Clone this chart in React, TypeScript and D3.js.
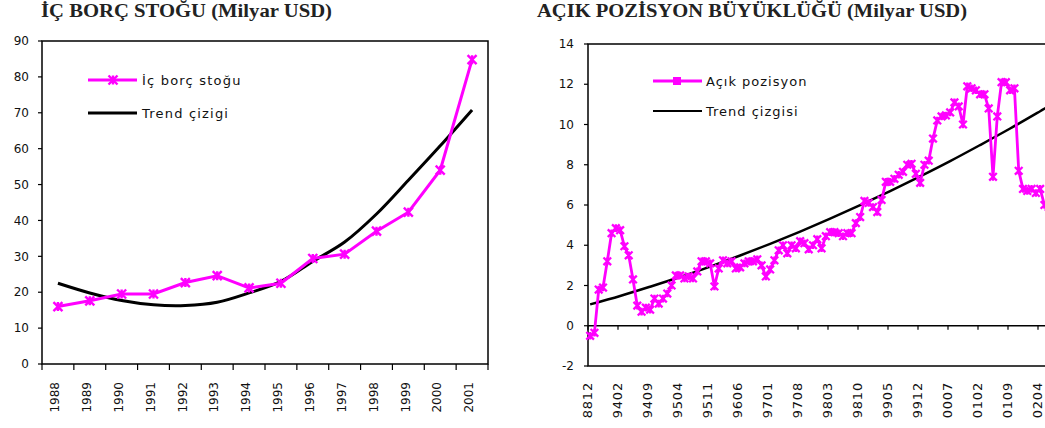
import React from 'react';
import * as d3 from 'd3';

// ---------- Left chart data: İç borç stoğu ----------
const years = ['1988', '1989', '1990', '1991', '1992', '1993', '1994', '1995', '1996', '1997', '1998', '1999', '2000', '2001'];
const debtStock = [16, 17.6, 19.5, 19.5, 22.7, 24.6, 21.2, 22.5, 29.4, 30.6, 37, 42.3, 54, 84.8];
const debtTrend = [22.5, 19.8, 17.7, 16.5, 16.3, 17.2, 19.8, 23.0, 28.6, 34.0, 41.8, 51.2, 60.8, 70.8];
const debtYTicks = [0, 10, 20, 30, 40, 50, 60, 70, 80, 90];

// ---------- Right chart data: Açık pozisyon (monthly, 8812 then 9308 ... 0206) ----------
const posTickLabels = ['8812', '9402', '9409', '9504', '9511', '9606', '9701', '9708', '9803', '9810', '9905', '9912', '0007', '0102', '0109', '0204'];
const posValues = [
  -0.5, -0.35, 1.8, 1.9, 3.2, 4.6, 4.85, 4.75, 3.95, 3.5,
  2.3, 1.0, 0.7, 0.9, 0.8, 1.35, 1.1, 1.35, 1.6, 2.0,
  2.5, 2.5, 2.35, 2.45, 2.35, 2.7, 3.2, 3.2, 3.1, 1.95,
  2.85, 3.25, 3.1, 3.2, 2.85, 2.9, 3.1, 3.2, 3.2, 3.3,
  3.0, 2.45, 2.8, 3.25, 3.75, 4.0, 3.6, 4.0, 3.85, 4.2,
  4.1, 3.8, 4.0, 4.3, 3.85, 4.45, 4.65, 4.65, 4.6, 4.45,
  4.6, 4.6, 5.1, 5.4, 6.2, 6.1, 5.9, 5.65, 6.25, 7.15,
  7.15, 7.3, 7.5, 7.65, 8.0, 8.05, 7.55, 7.1, 8.0, 8.2,
  9.3, 10.2, 10.4, 10.45, 10.6, 11.1, 10.9, 10.0, 11.9, 11.8,
  11.7, 11.5, 11.5, 10.8, 7.4, 10.4, 12.1, 12.1, 11.7, 11.8,
  7.7, 6.8, 6.7, 6.8, 6.6, 6.8, 6.0, 5.9,
];
const posTrendIndex = [0, 7, 14, 21, 28, 35, 42, 49, 56, 63, 70, 77, 84, 91, 98, 105, 107];
const posTrend = [1.06, 1.48, 1.94, 2.42, 2.94, 3.49, 4.07, 4.68, 5.32, 5.99, 6.69, 7.42, 8.18, 8.98, 9.8, 10.66, 10.91];
const posYTicks = [-2, 0, 2, 4, 6, 8, 10, 12, 14];

const W = 1045;
const H = 428;
const PINK = '#FF00FF';
const SANS = '"DejaVu Sans", Verdana, sans-serif';
const SERIF = '"Liberation Serif", "Times New Roman", serif';

const star = (r: number) => `M${-r},${-r}L${r},${r}M${-r},${r}L${r},${-r}M0,${-r}L0,${r}`;

function LeftChart() {
  const x = d3.scaleBand<string>().domain(years).range([42, 488]);
  const y = d3.scaleLinear().domain([0, 90]).range([364, 41]);
  const bw = x.bandwidth();
  const cx = (i: number) => (x(years[i]) as number) + bw / 2;
  const line = d3.line<number>().x((_, i) => cx(i)).y((d) => y(d));
  const trendLine = d3.line<number>().x((_, i) => cx(i)).y((d) => y(d)).curve(d3.curveCatmullRom.alpha(0.5));
  const boundaries = [...years.map((yr) => x(yr) as number), 488];
  return (
    <g>
      <text x={41} y={17} fontFamily={SERIF} fontWeight="bold" fontSize={18} textLength={291} lengthAdjust="spacingAndGlyphs" fill="#222">İÇ BORÇ STOĞU (Milyar USD)</text>
      <rect x={42} y={41} width={446} height={323} fill="none" stroke="#000" strokeWidth={1.5} />
      {debtYTicks.map((t) => (
        <g key={t}>
          <line x1={38} x2={42} y1={y(t)} y2={y(t)} stroke="#000" strokeWidth={1.2} />
          <text x={29} y={y(t)} dy="0.35em" textAnchor="end" fontFamily={SANS} fontSize={12} fill="#111">{t}</text>
        </g>
      ))}
      {boundaries.map((bx, i) => (
        <line key={i} x1={bx} x2={bx} y1={364} y2={370} stroke="#000" strokeWidth={1.2} />
      ))}
      {years.map((yr, i) => (
        <text key={yr} transform={`translate(${cx(i) - 3},382) rotate(-90)`} dy="0.35em" textAnchor="end" fontFamily={SANS} fontSize={12} fill="#111">{yr}</text>
      ))}
      <path d={trendLine(debtTrend) as string} fill="none" stroke="#000" strokeWidth={3} />
      <path d={line(debtStock) as string} fill="none" stroke={PINK} strokeWidth={3} />
      {debtStock.map((v, i) => (
        <path key={i} d={star(4.5)} transform={`translate(${cx(i)},${y(v)})`} stroke={PINK} strokeWidth={2.4} fill="none" />
      ))}
      {/* legend */}
      <line x1={88} x2={137} y1={80} y2={80} stroke={PINK} strokeWidth={3} />
      <path d={star(4.5)} transform="translate(113,80)" stroke={PINK} strokeWidth={2.4} fill="none" />
      <text x={142} y={84.5} fontFamily={SANS} fontSize={13} letterSpacing={1.2} fill="#111">İç borç stoğu</text>
      <line x1={88} x2={137} y1={113} y2={113} stroke="#000" strokeWidth={3} />
      <text x={142} y={117.5} fontFamily={SANS} fontSize={13} letterSpacing={1.2} fill="#111">Trend çizigi</text>
    </g>
  );
}

function RightChart() {
  const n = posValues.length;
  const step = 30 / 7;
  const idx = d3.range(n);
  const x = d3.scaleBand<number>().domain(idx).range([588, 588 + n * step]);
  const y = d3.scaleLinear().domain([-2, 14]).range([366, 44]);
  const bw = x.bandwidth();
  const cx = (i: number) => (x(i) as number) + bw / 2;
  const line = d3.line<number>().x((_, i) => cx(i)).y((d) => y(d));
  const trendLine = d3
    .line<number>()
    .x((_, i) => cx(posTrendIndex[i]))
    .y((d) => y(d))
    .curve(d3.curveCatmullRom.alpha(0.5));
  const xEnd = 588 + n * step;
  return (
    <g>
      <text x={537} y={17} fontFamily={SERIF} fontWeight="bold" fontSize={18} textLength={430} lengthAdjust="spacingAndGlyphs" fill="#222">AÇIK POZİSYON BÜYÜKLÜĞÜ (Milyar USD)</text>
      <rect x={588} y={44} width={n * step} height={322} fill="none" stroke="#000" strokeWidth={1.5} />
      <line x1={588} x2={xEnd} y1={y(0)} y2={y(0)} stroke="#000" strokeWidth={1.5} />
      {posYTicks.map((t) => (
        <g key={t}>
          <line x1={584} x2={588} y1={y(t)} y2={y(t)} stroke="#000" strokeWidth={1.2} />
          <text x={574} y={y(t)} dy="0.35em" textAnchor="end" fontFamily={SANS} fontSize={12} fill="#111">{t}</text>
        </g>
      ))}
      {posTickLabels.map((lab, k) => {
        const i = k * 7;
        const bx = x(i) as number;
        return (
          <g key={lab}>
            <line x1={bx} x2={bx} y1={y(0)} y2={y(0) + 4} stroke="#000" strokeWidth={1.2} />
            <text transform={`translate(${cx(i) - 3},382) rotate(-90)`} dy="0.35em" textAnchor="end" fontFamily={SANS} fontSize={13} letterSpacing={0.8} fill="#111">{lab}</text>
          </g>
        );
      })}
      <path d={trendLine(posTrend) as string} fill="none" stroke="#000" strokeWidth={2.5} />
      <path d={line(posValues) as string} fill="none" stroke={PINK} strokeWidth={2.8} />
      {posValues.map((v, i) => (
        <path key={i} d={star(3.8)} transform={`translate(${cx(i)},${y(v)})`} stroke={PINK} strokeWidth={2.3} fill="none" />
      ))}
      {/* legend */}
      <line x1={653} x2={702} y1={81} y2={81} stroke={PINK} strokeWidth={3} />
      <rect x={673} y={77} width={8} height={8} fill={PINK} />
      <text x={706} y={85.5} fontFamily={SANS} fontSize={13} letterSpacing={1} fill="#111">Açık pozisyon</text>
      <line x1={653} x2={702} y1={111} y2={111} stroke="#000" strokeWidth={2} />
      <text x={706} y={115.5} fontFamily={SANS} fontSize={13} letterSpacing={1} fill="#111">Trend çizgisi</text>
    </g>
  );
}

export default function App() {
  return (
    <svg
      width={W}
      height={H}
      viewBox={`0 0 ${W} ${H}`}
      style={{ position: 'absolute', left: 0, top: 0, background: '#fff', overflow: 'hidden' }}
    >
      <rect x={0} y={0} width={W} height={H} fill="#fff" />
      <LeftChart />
      <RightChart />
    </svg>
  );
}
